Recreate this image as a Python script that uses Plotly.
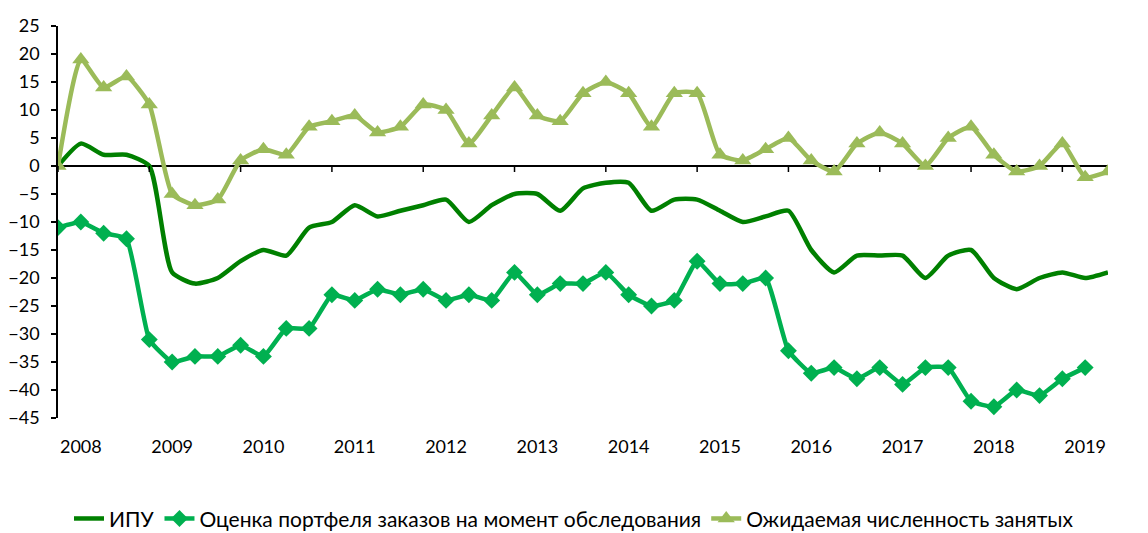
import plotly.graph_objects as go

# quarterly observations, 2008 Q1 .. 2019 Q3 (index 0..46)
ipu = [0, 4, 2, 2, 0, -19, -21, -20, -17, -15, -16, -11, -10, -7, -9, -8,
       -7, -6, -10, -7, -5, -5, -8, -4, -3, -3, -8, -6, -6, -8, -10, -9,
       -8, -15, -19, -16, -16, -16, -20, -16, -15, -20, -22, -20, -19, -20, -19]
orders = [-11, -10, -12, -13, -31, -35, -34, -34, -32, -34, -29, -29, -23, -24, -22, -23,
          -22, -24, -23, -24, -19, -23, -21, -21, -19, -23, -25, -24, -17, -21, -21, -20,
          -33, -37, -36, -38, -36, -39, -36, -36, -42, -43, -40, -41, -38, -36, None]
employment = [0, 19, 14, 16, 11, -5, -7, -6, 1, 3, 2, 7, 8, 9, 6, 7,
              11, 10, 4, 9, 14, 9, 8, 13, 15, 13, 7, 13, 13, 2, 1, 3,
              5, 1, -1, 4, 6, 4, 0, 5, 7, 2, -1, 0, 4, -2, -1]
years = ["2008", "2009", "2010", "2011", "2012", "2013", "2014", "2015",
         "2016", "2017", "2018", "2019"]

idx = list(range(len(ipu)))
year_pos = [1 + 4 * i for i in range(len(years))]

FONT = "Lato"

fig = go.Figure()

fig.add_trace(go.Scatter(
    x=idx, y=ipu, mode="lines", name="ИПУ",
    line=dict(color="#008000", width=4.5, shape="spline", smoothing=0.6)))

fig.add_trace(go.Scatter(
    x=idx, y=orders, mode="lines+markers",
    name="Оценка портфеля заказов на момент обследования",
    line=dict(color="#00B050", width=4.5, shape="spline", smoothing=0.4),
    marker=dict(symbol="diamond", size=13, color="#00B050")))

fig.add_trace(go.Scatter(
    x=idx, y=employment, mode="lines+markers",
    name="Ожидаемая численность занятых",
    line=dict(color="#9BBB59", width=4.5, shape="spline", smoothing=0.5),
    marker=dict(symbol="triangle-up", size=15, color="#9BBB59")))

# small tick marks on the zero line between years
for k in range(0, len(ipu), 4):
    fig.add_shape(type="line", xref="x", yref="y", x0=k, x1=k,
                  ysizemode="pixel", yanchor=0, y0=0, y1=-6,
                  line=dict(color="black", width=1.5))

# page body has an 8px margin, so the figure is offset by 8px in the window
fig.update_layout(
    width=1132, height=525,
    plot_bgcolor="white", paper_bgcolor="white",
    margin=dict(l=50, r=32, t=18, b=115, autoexpand=False),
    font=dict(family=FONT, size=17, color="black"),
    showlegend=True,
    legend=dict(orientation="h", xref="container", yref="container",
                x=0.5, xanchor="center", y=0.027, yanchor="middle",
                font=dict(size=21, family=FONT), tracegroupgap=0),
)

fig.update_xaxes(range=[0, 46], tickmode="array", tickvals=year_pos, ticktext=years,
                 showgrid=False, zeroline=False, showline=False, ticks="",
                 ticklabelstandoff=16, tickfont=dict(size=18), automargin=False)
fig.update_yaxes(range=[-45, 25], dtick=5, showgrid=False,
                 zeroline=True, zerolinecolor="black", zerolinewidth=1.5,
                 showline=True, linecolor="black", linewidth=1.5,
                 ticks="outside", ticklen=5, tickwidth=1.5, tickcolor="black",
                 ticklabelstandoff=8, tickfont=dict(size=18), automargin=False)

fig.write_html("out.html")
